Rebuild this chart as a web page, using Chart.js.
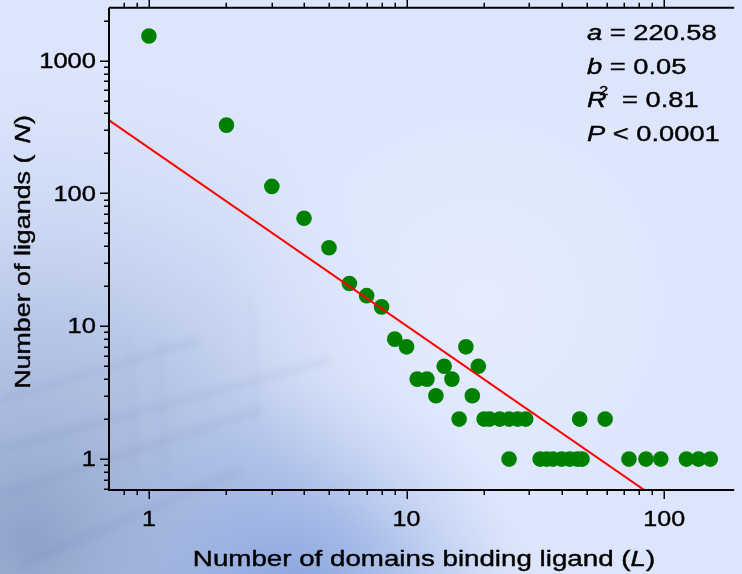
<!DOCTYPE html>
<html>
<head>
<meta charset="utf-8">
<script src="https://cdn.jsdelivr.net/npm/chart.js@4.4.1/dist/chart.umd.min.js"></script>
<style>
  html, body { margin: 0; padding: 0; background: #dce5fb; }
  canvas { display: block; }
</style>
</head>
<body>
<canvas id="powerLawChart" width="742" height="574"></canvas>
<script>
// Ligands per number of binding domains
const domainsL = [1, 2, 3, 4, 5, 6, 7, 8, 9, 10, 11, 12, 13, 14, 15, 16, 17, 18, 19,
    20, 21, 23, 25, 27, 29, 25, 33, 35, 37, 40, 43, 46, 48, 47, 59, 73, 85, 97, 122, 136, 151];
const ligandsN = [1535, 327, 113, 65, 39, 21, 17, 14, 8, 7, 4, 4, 3, 5, 4, 2, 7, 3, 5,
    2, 2, 2, 2, 2, 2, 1, 1, 1, 1, 1, 1, 1, 1, 2, 2, 1, 1, 1, 1, 1, 1];

// Power-law fit N = a * L^slope
const fitA = 220.58;
const fitSlope = -1.34;
const fitRange = [0.703, 100];

// Axis ranges and ticks
const xRange = [0.703, 187];
const yRange = [0.585, 2500];
const xMajorTicks = [1, 10, 100];
const xTickLabels = ['1', '10', '100'];
const xMinorTicks = [0.8, 0.9, 2, 3, 4, 5, 6, 7, 8, 9, 20, 30, 40, 50, 60, 70, 80, 90];
const yMajorTicks = [1, 10, 100, 1000];
const yTickLabels = ['1', '10', '100', '1000'];
const yMinorTicks = [0.6, 0.7, 0.8, 0.9, 2, 3, 4, 5, 6, 7, 8, 9, 20, 30, 40, 50, 60, 70, 80, 90,
    200, 300, 400, 500, 600, 700, 800, 900, 2000];

// Fit statistics block
const statLines = [
    [{ t: 'a', italic: true }, { t: ' = 220.58' }],
    [{ t: 'b', italic: true }, { t: ' = 0.05' }],
    [{ t: 'R', italic: true }, { t: '2', size: 13, dy: -12, dx: -6 }, { t: ' = 0.81', dx: 5 }],
    [{ t: 'P', italic: true }, { t: ' < 0.0001' }]
];

function fontFor(seg, size) {
    return (seg.italic ? 'italic ' : '') + (seg.size || size) + 'px "Liberation Sans", Arial, sans-serif';
}

function paintText(ctx, t, x, y) {
    ctx.fillText(t, x, y);
    ctx.strokeText(t, x, y);
}

// Draws a run of text segments, horizontally widened by `stretch`
function drawRich(ctx, segs, x, y, align, stretch, size) {
    let w = 0;
    segs.forEach(s => {
        ctx.font = fontFor(s, size);
        s.w = ctx.measureText(s.t).width;
        w += s.w + (s.dx || 0);
    });
    let start = x;
    if (align === 'right') start = x - w * stretch;
    if (align === 'center') start = x - w * stretch / 2;
    ctx.save();
    ctx.translate(start, y);
    ctx.scale(stretch, 1);
    let cx = 0;
    segs.forEach(s => {
        cx += s.dx || 0;
        ctx.font = fontFor(s, size);
        paintText(ctx, s.t, cx, s.dy || 0);
        cx += s.w;
    });
    ctx.restore();
}

const backdrop = {
    id: 'backdrop',
    beforeDraw(chart) {
        const { ctx, width, height } = chart;
        ctx.save();
        ctx.fillStyle = '#dce5fb';
        ctx.fillRect(0, 0, width, height);

        let g = ctx.createRadialGradient(30, 540, 10, 30, 540, 470);
        g.addColorStop(0, 'rgba(140,160,200,0.95)');
        g.addColorStop(0.45, 'rgba(168,186,224,0.7)');
        g.addColorStop(1, 'rgba(200,214,245,0)');
        ctx.fillStyle = g;
        ctx.fillRect(0, 0, width, height);

        g = ctx.createRadialGradient(300, 600, 10, 300, 600, 230);
        g.addColorStop(0, 'rgba(120,150,215,0.75)');
        g.addColorStop(1, 'rgba(150,175,230,0)');
        ctx.fillStyle = g;
        ctx.fillRect(0, 0, width, height);

        g = ctx.createRadialGradient(480, 300, 10, 480, 300, 260);
        g.addColorStop(0, 'rgba(232,238,255,0.7)');
        g.addColorStop(1, 'rgba(232,238,255,0)');
        ctx.fillStyle = g;
        ctx.fillRect(0, 0, width, height);

        // soft streaks of the photo texture, lower left
        ctx.filter = 'blur(3px)';
        ctx.strokeStyle = 'rgba(80,105,150,0.07)';
        ctx.lineWidth = 8;
        [[0, 450, 330, 360], [0, 495, 260, 410], [0, 400, 200, 340], [20, 565, 240, 470]].forEach(l => {
            ctx.beginPath();
            ctx.moveTo(l[0], l[1]);
            ctx.lineTo(l[2], l[3]);
            ctx.stroke();
        });
        ctx.strokeStyle = 'rgba(80,105,150,0.05)';
        ctx.lineWidth = 4;
        [[130, 330, 135, 470], [160, 340, 165, 480], [250, 300, 258, 420]].forEach(l => {
            ctx.beginPath();
            ctx.moveTo(l[0], l[1]);
            ctx.lineTo(l[2], l[3]);
            ctx.stroke();
        });
        ctx.restore();
    }
};

const axisDecor = {
    id: 'axisDecor',
    afterDraw(chart) {
        const { ctx, chartArea: a, scales: { x, y } } = chart;
        ctx.save();
        ctx.strokeStyle = '#000';
        ctx.lineWidth = 2;
        ctx.beginPath();
        ctx.moveTo(a.left, a.top);
        ctx.lineTo(a.right, a.top);
        ctx.moveTo(a.left, a.top);
        ctx.lineTo(a.left, a.bottom);
        ctx.lineTo(a.right, a.bottom);
        ctx.stroke();

        ctx.lineWidth = 1.5;
        ctx.beginPath();
        yMajorTicks.concat(yMinorTicks).forEach(v => {
            const py = Math.round(y.getPixelForValue(v)) + 0.25;
            const len = yMajorTicks.includes(v) ? 9 : 5;
            ctx.moveTo(a.left - len, py);
            ctx.lineTo(a.left, py);
        });
        xMajorTicks.concat(xMinorTicks).forEach(v => {
            const px = Math.round(x.getPixelForValue(v)) + 0.25;
            const len = xMajorTicks.includes(v) ? 9 : 5;
            ctx.moveTo(px, a.bottom);
            ctx.lineTo(px, a.bottom + len);
            ctx.moveTo(px, a.top);
            ctx.lineTo(px, a.top - len);
        });
        ctx.stroke();

        ctx.fillStyle = '#000';
        ctx.strokeStyle = '#000';
        ctx.lineWidth = 0.4;
        ctx.textBaseline = 'middle';
        yMajorTicks.forEach((v, i) => {
            drawRich(ctx, [{ t: yTickLabels[i] }], a.left - 13, y.getPixelForValue(v) + 1, 'right', 1.16, 22);
        });
        xMajorTicks.forEach((v, i) => {
            drawRich(ctx, [{ t: xTickLabels[i] }], x.getPixelForValue(v), a.bottom + 30, 'center', 1.14, 22);
        });

        ctx.textBaseline = 'alphabetic';
        drawRich(ctx, [{ t: 'Number of domains binding ligand (' }, { t: 'L', italic: true }, { t: ')' }],
            424, 566, 'center', 1.26, 22);

        ctx.save();
        ctx.translate(30, 252);
        ctx.rotate(-Math.PI / 2);
        drawRich(ctx, [{ t: 'Number of ligands ( ' }, { t: 'N', italic: true, dx: 3 }, { t: ')' }],
            0, 0, 'center', 1.22, 22);
        ctx.restore();

        statLines.forEach((line, i) => {
            drawRich(ctx, line, 587, 40 + i * 33.7, 'left', 1.24, 22);
        });
        ctx.restore();
    }
};

const canvas = document.getElementById('powerLawChart');
new Chart(canvas, {
    type: 'scatter',
    data: {
        datasets: [{
            type: 'line',
            data: fitRange.map(v => ({ x: v, y: fitA * Math.pow(v, fitSlope) })),
            borderColor: '#ff0000',
            borderWidth: 2,
            pointRadius: 0,
            clip: 0,
            order: 0
        }, {
            data: domainsL.map((v, i) => ({ x: v, y: ligandsN[i] })),
            backgroundColor: '#008000',
            borderWidth: 0,
            pointRadius: 7.8,
            order: 1
        }]
    },
    options: {
        responsive: false,
        animation: false,
        events: [],
        layout: { padding: { top: 7, right: 0, left: 0, bottom: 0 } },
        plugins: {
            legend: { display: false },
            tooltip: { enabled: false }
        },
        scales: {
            x: {
                type: 'logarithmic',
                min: xRange[0],
                max: xRange[1],
                grid: { display: false, drawTicks: false },
                border: { display: false },
                ticks: { display: false },
                afterFit: function(scale) { scale.height = 84; }
            },
            y: {
                type: 'logarithmic',
                min: yRange[0],
                max: yRange[1],
                grid: { display: false, drawTicks: false },
                border: { display: false },
                ticks: { display: false },
                afterFit: function(scale) { scale.width = 109; }
            }
        }
    },
    plugins: [backdrop, axisDecor]
});
</script>
</body>
</html>
